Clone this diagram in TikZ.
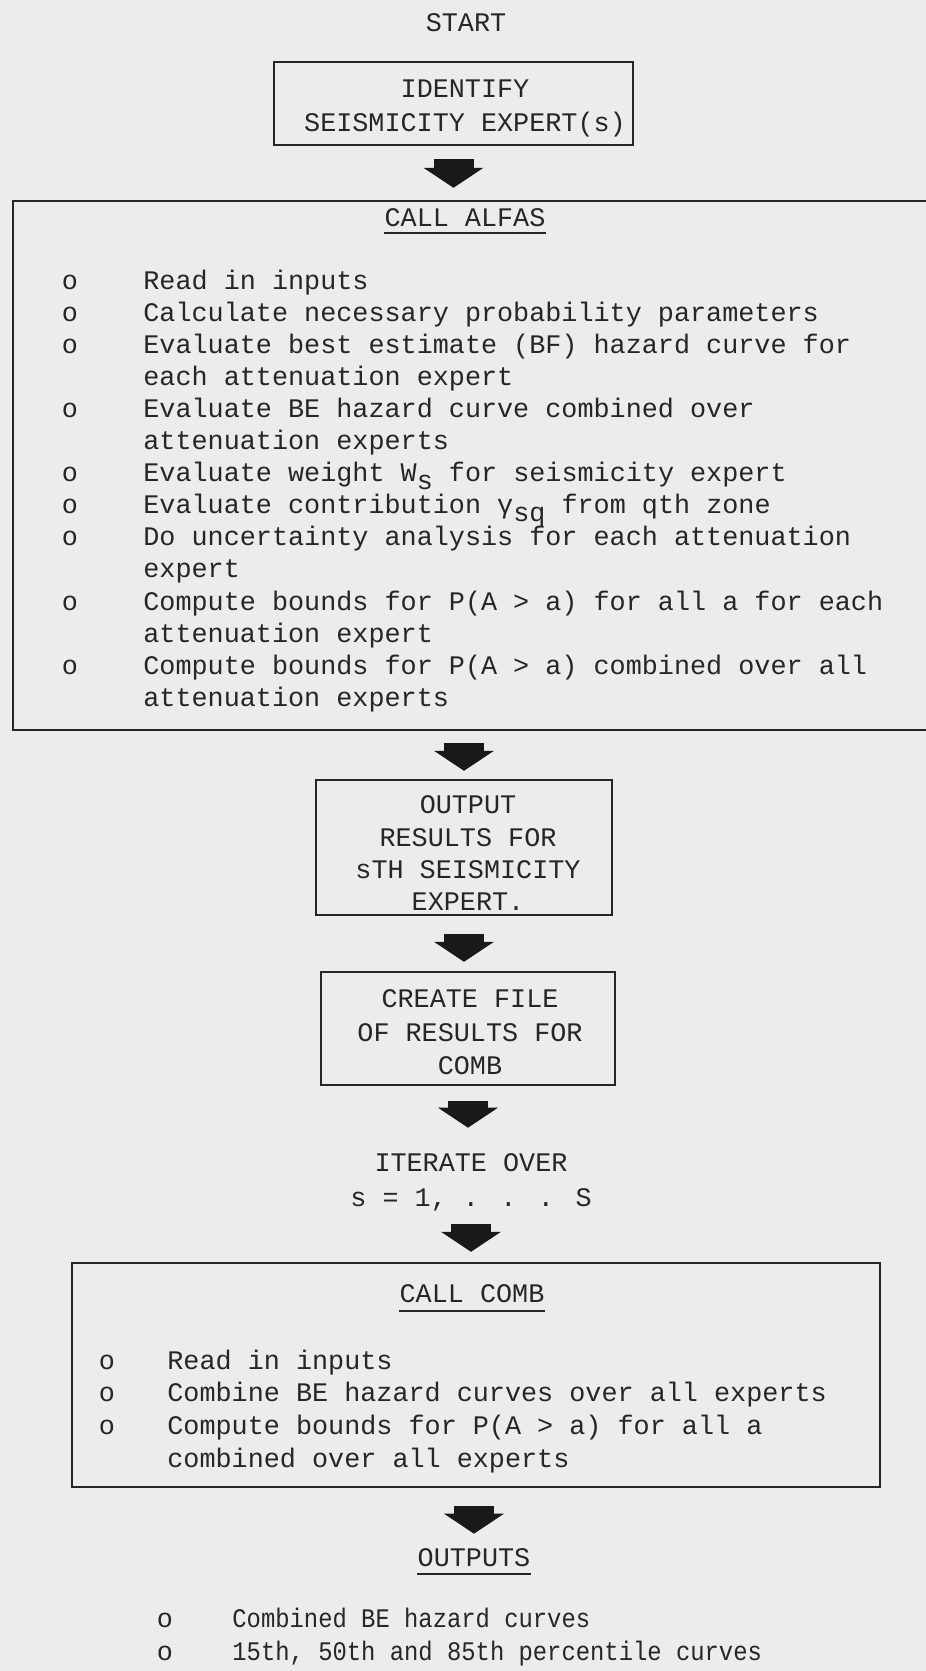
\documentclass[tikz,border=0pt]{standalone}
\usepackage{fontspec}
\newfontfamily\tw{Liberation Mono}
\newfontfamily\twn[FakeStretch=0.89]{Liberation Mono}
\usetikzlibrary{arrows.meta}
\definecolor{paper}{RGB}{236,236,234}
\definecolor{ink}{RGB}{38,38,38}
\newcommand\subtxt[1]{\raisebox{-4pt}{#1}}

\begin{document}
\begin{tikzpicture}[x=0.5pt,y=-0.5pt,
    txt/.style={font=\tw\fontsize{13.4}{16.5}\selectfont,text=ink,inner sep=0pt,anchor=base}]
  \tikzstyle{boxframe} = [draw=ink,line width=1.2pt,inner sep=0pt]
  \tikzstyle{item} = [txt,anchor=base west]
  \tikzstyle{fat} = [line width=20pt,draw=black!90,-{Triangle[width=30pt,length=10pt,line width=0pt]}]
  \tikzstyle{uline} = [draw=ink,line width=1pt]

  \fill[paper] (0,0) rectangle (926,1671);
  \useasboundingbox (0,0) rectangle (926,1671);

  \node[txt] (start) at (466,31) {START};

  \node[boxframe,minimum width=179.5pt,minimum height=41.5pt] (identbox) at (453.5,103.5) {};
  \node[txt] (ident1) at (465,97) {IDENTIFY};
  \node[txt] (ident2) at (465,131) {SEISMICITY EXPERT(s)};

  \node[boxframe,minimum width=473.5pt,minimum height=264.5pt] (alfasbox) at (486.5,465.5) {};
  \node[txt] (calla) at (465,226) {CALL ALFAS};
  \draw[uline] ([yshift=-3.5pt]calla.base west) -- ([yshift=-3.5pt]calla.base east);
  \foreach \t [count=\i] in {
      {Read in inputs},
      {Calculate necessary probability parameters},
      {Evaluate best estimate (BF) hazard curve for},
      {each attenuation expert},
      {Evaluate BE hazard curve combined over},
      {attenuation experts},
      {Evaluate weight W\subtxt{s} for seismicity expert},
      {Evaluate contribution γ\subtxt{sq} from qth zone},
      {Do uncertainty analysis for each attenuation},
      {expert},
      {Compute bounds for P(A > a) for all a for each},
      {attenuation expert},
      {Compute bounds for P(A > a) combined over all},
      {attenuation experts}}
    \node[item] (alfas\i) at (143,{289+32.1*(\i-1)}) {\t};
  \foreach \i in {1,2,3,5,7,8,9,11,13}
    \node[txt] (alfasdot\i) at (70,{289+32.1*(\i-1)}) {o};

  \node[boxframe,minimum width=148pt,minimum height=67.5pt] (outbox) at (464,847.5) {};
  \node[txt] (out1) at (468,813) {OUTPUT};
  \node[txt] (out2) at (468,846) {RESULTS FOR};
  \node[txt] (out3) at (468,878) {sTH SEISMICITY};
  \node[txt] (out4) at (468,910) {EXPERT.};

  \node[boxframe,minimum width=147pt,minimum height=56.5pt] (createbox) at (468,1028.5) {};
  \node[txt] (create1) at (470,1007) {CREATE FILE};
  \node[txt] (create2) at (470,1041) {OF RESULTS FOR};
  \node[txt] (create3) at (470,1074) {COMB};

  \node[txt] (iter1) at (471,1171) {ITERATE OVER};
  \node[txt] (iter2) at (471,1206) {s = 1, . . . S};

  \node[boxframe,minimum width=404pt,minimum height=112pt] (combbox) at (476,1375) {};
  \node[txt] (callc) at (472,1302) {CALL COMB};
  \draw[uline] ([yshift=-4.5pt]callc.base west) -- ([yshift=-4.5pt]callc.base east);
  \foreach \t [count=\i] in {
      {Read in inputs},
      {Combine BE hazard curves over all experts},
      {Compute bounds for P(A > a) for all a},
      {combined over all experts}}
    \node[item] (comb\i) at (167,{1369+32.7*(\i-1)}) {\t};
  \foreach \i in {1,2,3}
    \node[txt] (combdot\i) at (107,{1369+32.7*(\i-1)}) {o};

  \node[txt] (outs) at (474,1566) {OUTPUTS};
  \draw[uline] ([yshift=-4pt]outs.base west) -- ([yshift=-4pt]outs.base east);
  \node[item,font=\twn\fontsize{13.4}{16.5}\selectfont] (res1) at (232,1627) {Combined BE hazard curves};
  \node[item,font=\twn\fontsize{13.4}{16.5}\selectfont] (res2) at (232,1660) {15th, 50th and 85th percentile curves};
  \node[txt] (resdot1) at (165,1627) {o};
  \node[txt] (resdot2) at (165,1660) {o};

  \draw[fat,shorten <=6.5pt,shorten >=6pt] (identbox.south) -- (identbox.south |- alfasbox.north);
  \draw[fat,shorten <=6pt,shorten >=4pt] (outbox.north |- alfasbox.south) -- (outbox.north);
  \draw[fat,shorten <=9pt,shorten >=4.5pt] (outbox.south) -- (outbox.south |- createbox.north);
  \draw[fat,shorten <=7.5pt,shorten >=12.5pt] (createbox.south) -- (createbox.south |- iter1.north);
  \draw[fat,shorten <=6.5pt,shorten >=5pt] (iter2.south) -- (iter2.south |- combbox.north);
  \draw[fat,shorten <=9pt,shorten >=7pt] (outs.north |- combbox.south) -- (outs.north);
\end{tikzpicture}
\end{document}
